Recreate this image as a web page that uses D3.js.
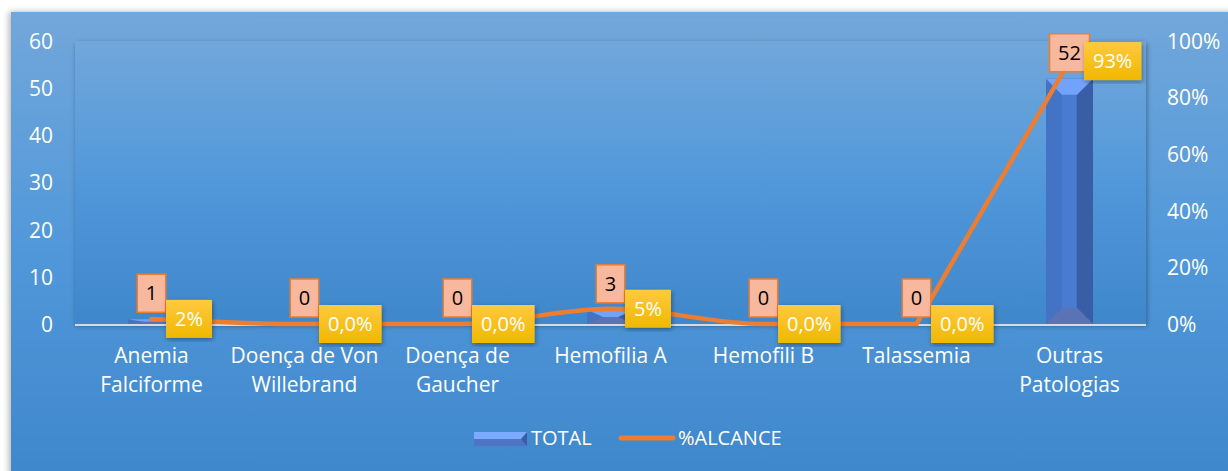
<!DOCTYPE html>
<html>
<head>
<meta charset="utf-8">
<script src="https://cdn.jsdelivr.net/npm/d3@7"></script>
<style>
  body { margin: 0; background: #fff; }
  svg text { font-family: "Open Sans", Lato, sans-serif; }
</style>
</head>
<body>
<div id="chart"></div>
<script>
var categories = [
  ["Anemia", "Falciforme"],
  ["Doença de Von", "Willebrand"],
  ["Doença de", "Gaucher"],
  ["Hemofilia A"],
  ["Hemofili B"],
  ["Talassemia"],
  ["Outras", "Patologias"]
];
var totals = [1, 0, 0, 3, 0, 0, 52];
var alcance = [0.018, 0, 0, 0.054, 0, 0, 0.929];
var alcanceLabels = ["2%", "0,0%", "0,0%", "5%", "0,0%", "0,0%", "93%"];
var leftTicks = [0, 10, 20, 30, 40, 50, 60];
var rightTicks = [0, 0.2, 0.4, 0.6, 0.8, 1];

var width = 1228,
    height = 471;

var plot = {left: 75, right: 1146, top: 41, bottom: 324};

var svg = d3.select("#chart").append("svg")
    .attr("width", width)
    .attr("height", height);

var defs = svg.append("defs");

var bg = defs.append("linearGradient").attr("id", "bg")
    .attr("x1", 0).attr("y1", 0).attr("x2", 0).attr("y2", 1);
bg.append("stop").attr("offset", "0%").attr("stop-color", "#72a7da");
bg.append("stop").attr("offset", "50%").attr("stop-color", "#5198da");
bg.append("stop").attr("offset", "100%").attr("stop-color", "#3f87cb");

var gold = defs.append("linearGradient").attr("id", "gold")
    .attr("x1", 0).attr("y1", 0).attr("x2", 0).attr("y2", 1);
gold.append("stop").attr("offset", "0%").attr("stop-color", "#ffc93f");
gold.append("stop").attr("offset", "100%").attr("stop-color", "#f0b800");

var shadow = defs.append("filter").attr("id", "shadow")
    .attr("x", "-10%").attr("y", "-10%").attr("width", "120%").attr("height", "120%");
shadow.append("feDropShadow").attr("dx", 1).attr("dy", 2).attr("stdDeviation", 2.5)
    .attr("flood-color", "#000").attr("flood-opacity", 0.35);

var softShadow = defs.append("filter").attr("id", "soft")
    .attr("x", "-5%").attr("y", "-5%").attr("width", "110%").attr("height", "110%");
softShadow.append("feDropShadow").attr("dx", -2).attr("dy", 0).attr("stdDeviation", 3)
    .attr("flood-color", "#000").attr("flood-opacity", 0.3);

// chart background
svg.append("rect")
    .attr("x", 11).attr("y", 12)
    .attr("width", width).attr("height", height)
    .attr("fill", "url(#bg)")
    .attr("filter", "url(#soft)");

// plot area
svg.append("rect")
    .attr("x", plot.left).attr("y", plot.top)
    .attr("width", plot.right - plot.left).attr("height", plot.bottom - plot.top)
    .attr("fill", "url(#bg)")
    .attr("filter", "url(#shadow)");

var x = d3.scaleBand()
    .domain(d3.range(categories.length))
    .range([plot.left, plot.right]);

var yLeft = d3.scaleLinear().domain([0, 60]).range([plot.bottom, plot.top]);
var yRight = d3.scaleLinear().domain([0, 1]).range([plot.bottom, plot.top]);

var cx = i => x(i) + x.bandwidth() / 2;

// axes
var leftAxis = svg.append("g")
    .attr("transform", "translate(" + 53 + ",0)")
    .call(d3.axisLeft(yLeft).tickValues(leftTicks).tickSize(0).tickPadding(0));
var rightAxis = svg.append("g")
    .attr("transform", "translate(" + 1167 + ",0)")
    .call(d3.axisRight(yRight).tickValues(rightTicks).tickSize(0).tickPadding(0)
      .tickFormat(d3.format(".0%")));
[leftAxis, rightAxis].forEach(function(a) {
  a.select(".domain").remove();
  a.selectAll("text")
    .attr("fill", "#fff")
    .style("font-size", "21px")
    .style("font-family", "'Open Sans', sans-serif")
    .attr("dy", "0.35em");
});

// category labels
var catG = svg.append("g");
categories.forEach(function(lines, i) {
  var t = catG.append("text")
      .attr("x", cx(i)).attr("y", 363)
      .attr("text-anchor", "middle")
      .attr("fill", "#fff")
      .style("font-size", "21px");
  lines.forEach(function(l, j) {
    t.append("tspan").attr("x", cx(i)).attr("dy", j ? 29 : 0).text(l);
  });
});

// bars
var barW = 47;
var bars = svg.append("g").selectAll("g")
    .data(totals)
    .enter().append("g");

bars.each(function(v, i) {
  if (v <= 0) return;
  var g = d3.select(this);
  var x0 = cx(i) - barW / 2, x1 = cx(i) + barW / 2;
  var top = yLeft(v), bot = yLeft(0);
  var h = bot - top;
  var b = Math.min(16, h / 2);
  g.append("rect").attr("x", x0).attr("y", top).attr("width", barW).attr("height", h)
    .attr("fill", "#4472c4");
  g.append("rect").attr("x", x0 + 16).attr("y", top).attr("width", 14).attr("height", h)
    .attr("fill", "#4a7bd3");
  g.append("polygon")
    .attr("points", [[x1, top], [x1, bot], [x1 - 16, bot - b], [x1 - 16, top + b]].join(" "))
    .attr("fill", "#3a5ea6");
  g.append("polygon")
    .attr("points", [[x0, top], [x1, top], [x1 - 16, top + b], [x0 + 16, top + b]].join(" "))
    .attr("fill", "#72a3fa");
  g.append("polygon")
    .attr("points", [[x0, bot], [x1, bot], [x1 - 16, bot - b], [x0 + 16, bot - b]].join(" "))
    .attr("fill", "#5a73b6");
});

// base line
svg.append("line")
    .attr("x1", plot.left).attr("x2", plot.right)
    .attr("y1", plot.bottom + 1).attr("y2", plot.bottom + 1)
    .attr("stroke", "#d9d9d9").attr("stroke-width", 2);

// line: smooth across the low values, straight on the last rise
var smooth = d3.line()
    .x(d => cx(d.i))
    .y(d => yRight(d.v))
    .curve(d3.curveMonotoneX);
var straight = d3.line()
    .x(d => cx(d.i))
    .y(d => yRight(d.v));
var pts = alcance.map((v, i) => ({v: v, i: i}));
var last = pts.length - 1;

var lineG = svg.append("g")
    .attr("fill", "none")
    .attr("stroke", "#ed7d31")
    .attr("stroke-width", 4.5)
    .attr("stroke-linecap", "round")
    .attr("stroke-linejoin", "round");
lineG.append("path").attr("d", smooth(pts.slice(0, last)));
lineG.append("path").attr("d", straight(pts.slice(last - 1)));

// total labels
var totalLabels = svg.append("g");
totals.forEach(function(v, i) {
  var g = totalLabels.append("g");
  var t = g.append("text")
      .attr("x", cx(i)).attr("y", yLeft(v) - 26)
      .attr("text-anchor", "middle")
      .attr("dy", "0.35em")
      .attr("fill", "#000")
      .style("font-size", "20px")
      .text(v);
  var w = t.node().getComputedTextLength() + 17;
  g.insert("rect", "text")
    .attr("x", cx(i) - w / 2).attr("y", yLeft(v) - 45)
    .attr("width", w).attr("height", 38)
    .attr("fill", "#f8b89e")
    .attr("stroke", "#ed7d31").attr("stroke-width", 1.5);
});

// alcance labels
var pctLabels = svg.append("g");
alcance.forEach(function(v, i) {
  var g = pctLabels.append("g");
  var x0 = cx(i) + 14.5;
  var t = g.append("text")
      .attr("y", yRight(v))
      .attr("dy", "0.35em")
      .attr("text-anchor", "middle")
      .attr("fill", "#fff")
      .style("font-size", "20px")
      .text(alcanceLabels[i]);
  var w = t.node().getComputedTextLength() + 18;
  t.attr("x", x0 + w / 2);
  g.insert("rect", "text")
    .attr("x", x0).attr("y", yRight(v) - 19)
    .attr("width", w).attr("height", 38)
    .attr("fill", "url(#gold)")
    .attr("filter", "url(#shadow)");
});

// legend
var legend = svg.append("g");
legend.append("rect").attr("x", 474).attr("y", 432).attr("width", 53).attr("height", 7)
  .attr("fill", "#7aabff");
legend.append("rect").attr("x", 474).attr("y", 439).attr("width", 53).attr("height", 7)
  .attr("fill", "#4f74c4");
legend.append("polygon").attr("points", "527,432 527,446 521,439").attr("fill", "#3a5ea6");
legend.append("text").attr("x", 531).attr("y", 438).attr("dy", "0.35em")
  .attr("fill", "#fff").style("font-size", "20px").text("TOTAL");
legend.append("line").attr("x1", 621).attr("x2", 673).attr("y1", 438).attr("y2", 438)
  .attr("stroke", "#ed7d31").attr("stroke-width", 5).attr("stroke-linecap", "round");
legend.append("text").attr("x", 678).attr("y", 438).attr("dy", "0.35em")
  .attr("fill", "#fff").style("font-size", "20px").text("%ALCANCE");
</script>
</body>
</html>
